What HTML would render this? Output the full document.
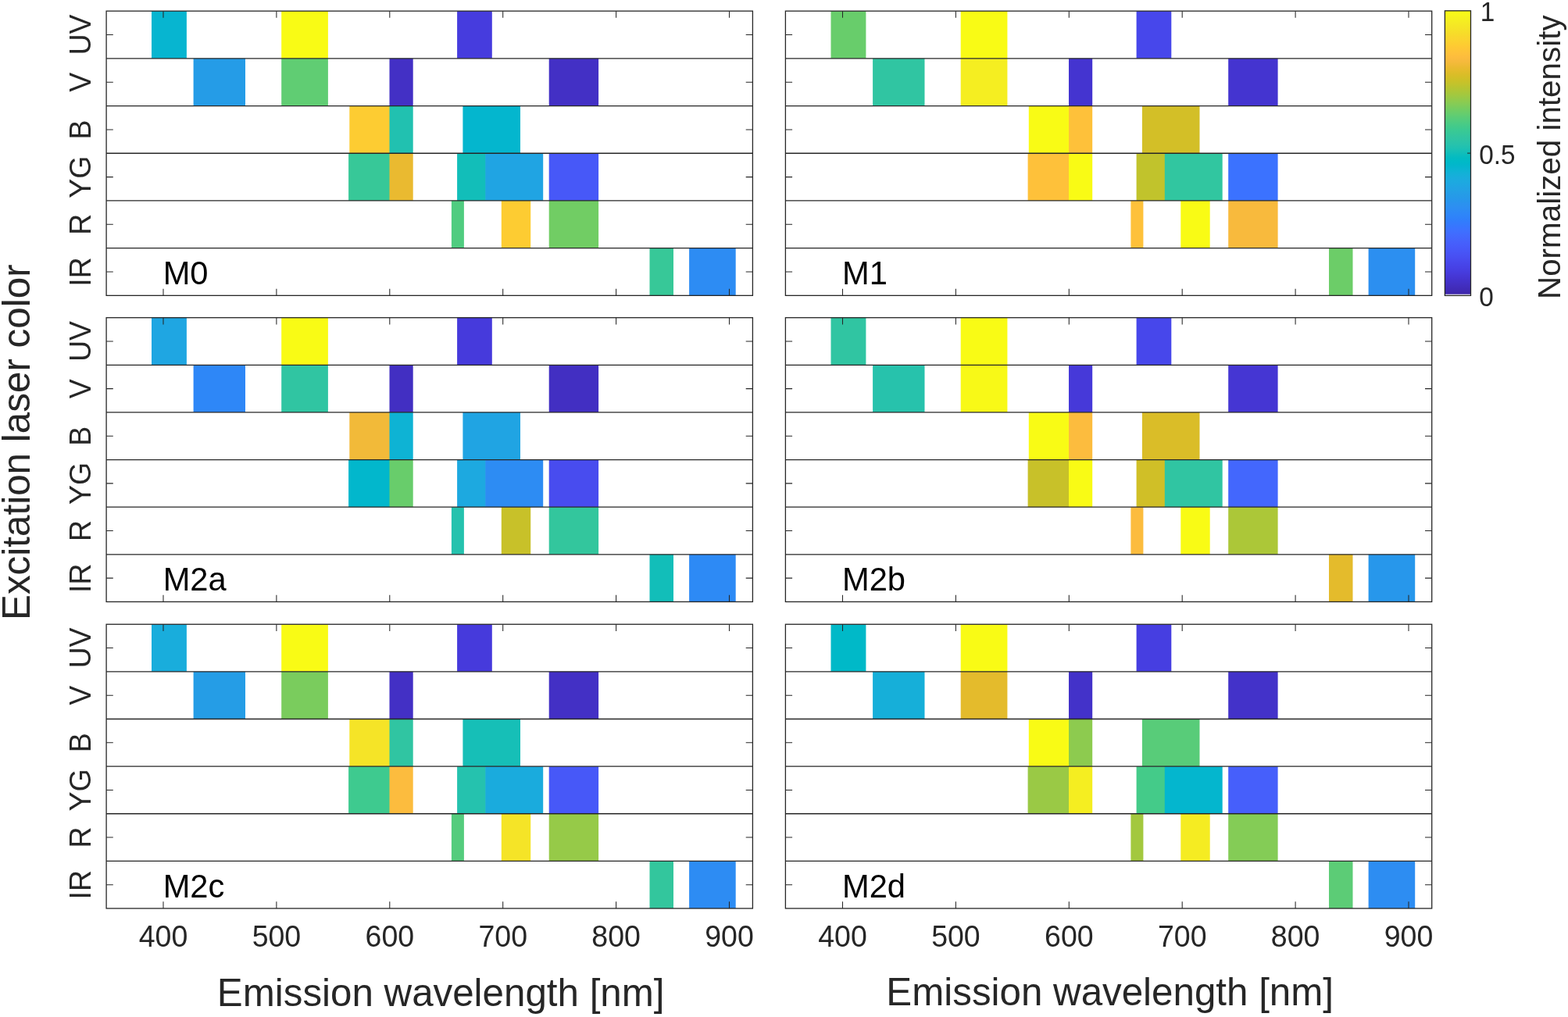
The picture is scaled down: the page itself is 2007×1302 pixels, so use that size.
<!DOCTYPE html>
<html lang="en">
<head>
<meta charset="utf-8">
<title>Normalized emission intensity per excitation laser</title>
<style>
html,body{margin:0;padding:0;background:#fff;}
body{width:2007px;height:1302px;overflow:hidden;}
svg{display:block;}
text{font-family:"Liberation Sans", sans-serif;fill:#262626;}
.tk{font-size:37.5px;}
.cb{font-size:33.33px;}
.pl{font-size:41.67px;fill:#000;}
.al{font-size:49.3px;}
.cl{font-size:40.4px;}
.yl{font-size:49.4px;}
.ln{stroke:#262626;stroke-width:1.3;fill:none;}
.tkl{stroke:#262626;stroke-width:1.05;fill:none;}
</style>
</head>
<body>
<svg width="2007" height="1302" viewBox="0 0 2007 1302">
<defs><linearGradient id="pg" x1="0" y1="1" x2="0" y2="0">
<stop offset="0.0000" stop-color="#3e26a8"/><stop offset="0.0118" stop-color="#3f29b2"/><stop offset="0.0235" stop-color="#412cba"/><stop offset="0.0353" stop-color="#422fc2"/><stop offset="0.0471" stop-color="#4332ca"/><stop offset="0.0588" stop-color="#4535d2"/><stop offset="0.0706" stop-color="#4639d9"/><stop offset="0.0824" stop-color="#463de0"/><stop offset="0.0941" stop-color="#4741e5"/><stop offset="0.1059" stop-color="#4745e9"/><stop offset="0.1176" stop-color="#4849ed"/><stop offset="0.1294" stop-color="#484ef1"/><stop offset="0.1412" stop-color="#4852f4"/><stop offset="0.1529" stop-color="#4756f7"/><stop offset="0.1647" stop-color="#475af9"/><stop offset="0.1765" stop-color="#465efb"/><stop offset="0.1882" stop-color="#4562fc"/><stop offset="0.2000" stop-color="#4367fd"/><stop offset="0.2118" stop-color="#416bfe"/><stop offset="0.2235" stop-color="#3e70ff"/><stop offset="0.2353" stop-color="#3974ff"/><stop offset="0.2471" stop-color="#3579fd"/><stop offset="0.2588" stop-color="#317dfc"/><stop offset="0.2706" stop-color="#2f82fa"/><stop offset="0.2824" stop-color="#2e86f8"/><stop offset="0.2941" stop-color="#2d8af5"/><stop offset="0.3059" stop-color="#2d8ef2"/><stop offset="0.3176" stop-color="#2b91ef"/><stop offset="0.3294" stop-color="#2895ec"/><stop offset="0.3412" stop-color="#2699e9"/><stop offset="0.3529" stop-color="#259ce7"/><stop offset="0.3647" stop-color="#23a0e5"/><stop offset="0.3765" stop-color="#21a3e3"/><stop offset="0.3882" stop-color="#1ea7e1"/><stop offset="0.4000" stop-color="#1caadf"/><stop offset="0.4118" stop-color="#19addc"/><stop offset="0.4235" stop-color="#14b0d8"/><stop offset="0.4353" stop-color="#0eb3d4"/><stop offset="0.4471" stop-color="#06b5cf"/><stop offset="0.4588" stop-color="#01b7ca"/><stop offset="0.4706" stop-color="#00bac6"/><stop offset="0.4824" stop-color="#04bbc1"/><stop offset="0.4941" stop-color="#0dbdbc"/><stop offset="0.5059" stop-color="#17bfb6"/><stop offset="0.5176" stop-color="#20c1b1"/><stop offset="0.5294" stop-color="#27c2ac"/><stop offset="0.5412" stop-color="#2cc4a6"/><stop offset="0.5529" stop-color="#31c5a1"/><stop offset="0.5647" stop-color="#35c79b"/><stop offset="0.5765" stop-color="#39c994"/><stop offset="0.5882" stop-color="#40ca8d"/><stop offset="0.6000" stop-color="#48cb86"/><stop offset="0.6118" stop-color="#51cc7f"/><stop offset="0.6235" stop-color="#5acc77"/><stop offset="0.6353" stop-color="#64cd6f"/><stop offset="0.6471" stop-color="#6ecd66"/><stop offset="0.6588" stop-color="#79cc5e"/><stop offset="0.6706" stop-color="#84cc56"/><stop offset="0.6824" stop-color="#8fcb4e"/><stop offset="0.6941" stop-color="#9ac946"/><stop offset="0.7059" stop-color="#a4c83e"/><stop offset="0.7176" stop-color="#aec637"/><stop offset="0.7294" stop-color="#b8c431"/><stop offset="0.7412" stop-color="#c2c32c"/><stop offset="0.7529" stop-color="#cbc128"/><stop offset="0.7647" stop-color="#d3bf27"/><stop offset="0.7765" stop-color="#dbbd28"/><stop offset="0.7882" stop-color="#e3bc2b"/><stop offset="0.8000" stop-color="#eaba30"/><stop offset="0.8118" stop-color="#f1ba37"/><stop offset="0.8235" stop-color="#f7ba3d"/><stop offset="0.8353" stop-color="#fcbc3e"/><stop offset="0.8471" stop-color="#fec03b"/><stop offset="0.8588" stop-color="#fec438"/><stop offset="0.8706" stop-color="#fec834"/><stop offset="0.8824" stop-color="#fdcd31"/><stop offset="0.8941" stop-color="#fbd22f"/><stop offset="0.9059" stop-color="#f9d62d"/><stop offset="0.9176" stop-color="#f7db2a"/><stop offset="0.9294" stop-color="#f6e028"/><stop offset="0.9412" stop-color="#f5e526"/><stop offset="0.9529" stop-color="#f5e924"/><stop offset="0.9647" stop-color="#f5ee21"/><stop offset="0.9765" stop-color="#f6f21e"/><stop offset="0.9882" stop-color="#f8f71a"/><stop offset="1.0000" stop-color="#f9fb15"/>
</linearGradient></defs>
<g id="panel-M0">
<rect x="194" y="14.15" width="44.9" height="60.7" fill="#07b5d0"/><rect x="360.2" y="14.15" width="59.7" height="60.7" fill="#f9fb15"/><rect x="585.1" y="14.15" width="44.7" height="60.7" fill="#463cde"/>
<rect x="247.6" y="74.85" width="66.4" height="60.7" fill="#259ce7"/><rect x="360.2" y="74.85" width="59.7" height="60.7" fill="#60cd73"/><rect x="498.5" y="74.85" width="30.2" height="60.7" fill="#4330c5"/><rect x="702.7" y="74.85" width="63.4" height="60.7" fill="#4330c5"/>
<rect x="447.3" y="135.55" width="51.8" height="60.7" fill="#fdcc32"/><rect x="498.5" y="135.55" width="30.2" height="60.7" fill="#21c1b0"/><rect x="592.4" y="135.55" width="73.6" height="60.7" fill="#04b6ce"/>
<rect x="446.1" y="196.25" width="53" height="60.7" fill="#37c898"/><rect x="498.5" y="196.25" width="30.2" height="60.7" fill="#eaba30"/><rect x="585.1" y="196.25" width="36.8" height="60.7" fill="#12beb9"/><rect x="621.3" y="196.25" width="73.9" height="60.7" fill="#20a4e3"/><rect x="702.7" y="196.25" width="63.4" height="60.7" fill="#4758f8"/>
<rect x="577.9" y="256.95" width="16" height="60.7" fill="#50cc80"/><rect x="641.8" y="256.95" width="37.4" height="60.7" fill="#fdcc32"/><rect x="702.7" y="256.95" width="63.4" height="60.7" fill="#71cd64"/>
<rect x="831.5" y="317.65" width="30.5" height="60.7" fill="#37c898"/><rect x="882.1" y="317.65" width="59.6" height="60.7" fill="#2d8cf3"/>
<path class="ln" d="M136.1 74.85H963.4M136.1 135.55H963.4M136.1 196.25H963.4M136.1 256.95H963.4M136.1 317.65H963.4"/>
<path class="tkl" d="M209 14.15v8.7M209 378.35v-8.7M353.9 14.15v8.7M353.9 378.35v-8.7M498.8 14.15v8.7M498.8 378.35v-8.7M643.7 14.15v8.7M643.7 378.35v-8.7M788.6 14.15v8.7M788.6 378.35v-8.7M933.5 14.15v8.7M933.5 378.35v-8.7M136.1 44.5h8.7M963.4 44.5h-8.7M136.1 105.2h8.7M963.4 105.2h-8.7M136.1 165.9h8.7M963.4 165.9h-8.7M136.1 226.6h8.7M963.4 226.6h-8.7M136.1 287.3h8.7M963.4 287.3h-8.7M136.1 348h8.7M963.4 348h-8.7"/>
<rect class="ln" x="136.1" y="14.15" width="827.3" height="364.2"/>
<text class="pl" transform="translate(208.65 363.95) scale(1 1.04)">M0</text>
<text class="tk" text-anchor="middle" transform="translate(116 44.5) rotate(-90) scale(1 1.04)">UV</text><text class="tk" text-anchor="middle" transform="translate(116 105.2) rotate(-90) scale(1 1.04)">V</text><text class="tk" text-anchor="middle" transform="translate(116 165.9) rotate(-90) scale(1 1.04)">B</text><text class="tk" text-anchor="middle" transform="translate(116 226.6) rotate(-90) scale(1 1.04)">YG</text><text class="tk" text-anchor="middle" transform="translate(116 287.3) rotate(-90) scale(1 1.04)">R</text><text class="tk" text-anchor="middle" transform="translate(116 348) rotate(-90) scale(1 1.04)">IR</text>
</g>
<g id="panel-M1">
<rect x="1063.5" y="14.15" width="44.9" height="60.7" fill="#68cd6b"/><rect x="1229.7" y="14.15" width="59.7" height="60.7" fill="#f9fb15"/><rect x="1454.6" y="14.15" width="44.7" height="60.7" fill="#4747eb"/>
<rect x="1117.1" y="74.85" width="66.4" height="60.7" fill="#30c5a2"/><rect x="1229.7" y="74.85" width="59.7" height="60.7" fill="#f5ee21"/><rect x="1368" y="74.85" width="30.2" height="60.7" fill="#4434d0"/><rect x="1572.2" y="74.85" width="63.4" height="60.7" fill="#4434d0"/>
<rect x="1316.8" y="135.55" width="51.8" height="60.7" fill="#f9fb15"/><rect x="1368" y="135.55" width="30.2" height="60.7" fill="#fec13a"/><rect x="1461.9" y="135.55" width="73.6" height="60.7" fill="#d3bf27"/>
<rect x="1315.6" y="196.25" width="53" height="60.7" fill="#fec13a"/><rect x="1368" y="196.25" width="30.2" height="60.7" fill="#f9fb15"/><rect x="1454.6" y="196.25" width="36.8" height="60.7" fill="#c1c32c"/><rect x="1490.8" y="196.25" width="73.9" height="60.7" fill="#31c6a0"/><rect x="1572.2" y="196.25" width="63.4" height="60.7" fill="#3b72ff"/>
<rect x="1447.4" y="256.95" width="16" height="60.7" fill="#fec13a"/><rect x="1511.3" y="256.95" width="37.4" height="60.7" fill="#f9fb15"/><rect x="1572.2" y="256.95" width="63.4" height="60.7" fill="#f8ba3d"/>
<rect x="1701" y="317.65" width="30.5" height="60.7" fill="#6ccd68"/><rect x="1751.6" y="317.65" width="59.6" height="60.7" fill="#2c8ff0"/>
<path class="ln" d="M1005.4 74.85H1832.7M1005.4 135.55H1832.7M1005.4 196.25H1832.7M1005.4 256.95H1832.7M1005.4 317.65H1832.7"/>
<path class="tkl" d="M1078.5 14.15v8.7M1078.5 378.35v-8.7M1223.4 14.15v8.7M1223.4 378.35v-8.7M1368.3 14.15v8.7M1368.3 378.35v-8.7M1513.2 14.15v8.7M1513.2 378.35v-8.7M1658.1 14.15v8.7M1658.1 378.35v-8.7M1803 14.15v8.7M1803 378.35v-8.7M1005.4 44.5h8.7M1832.7 44.5h-8.7M1005.4 105.2h8.7M1832.7 105.2h-8.7M1005.4 165.9h8.7M1832.7 165.9h-8.7M1005.4 226.6h8.7M1832.7 226.6h-8.7M1005.4 287.3h8.7M1832.7 287.3h-8.7M1005.4 348h8.7M1832.7 348h-8.7"/>
<rect class="ln" x="1005.4" y="14.15" width="827.3" height="364.2"/>
<text class="pl" transform="translate(1077.95 363.95) scale(1 1.04)">M1</text>
</g>
<g id="panel-M2a">
<rect x="194" y="406.7" width="44.9" height="60.62" fill="#1fa6e2"/><rect x="360.2" y="406.7" width="59.7" height="60.62" fill="#f9fb15"/><rect x="585.1" y="406.7" width="44.7" height="60.62" fill="#463adc"/>
<rect x="247.6" y="467.32" width="66.4" height="60.62" fill="#2e87f7"/><rect x="360.2" y="467.32" width="59.7" height="60.62" fill="#30c5a2"/><rect x="498.5" y="467.32" width="30.2" height="60.62" fill="#422fc2"/><rect x="702.7" y="467.32" width="63.4" height="60.62" fill="#422fc2"/>
<rect x="447.3" y="527.95" width="51.8" height="60.62" fill="#f2ba39"/><rect x="498.5" y="527.95" width="30.2" height="60.62" fill="#0eb3d4"/><rect x="592.4" y="527.95" width="73.6" height="60.62" fill="#20a4e3"/>
<rect x="446.1" y="588.58" width="53" height="60.62" fill="#02b7cc"/><rect x="498.5" y="588.58" width="30.2" height="60.62" fill="#68cd6b"/><rect x="585.1" y="588.58" width="36.8" height="60.62" fill="#1da9e0"/><rect x="621.3" y="588.58" width="73.9" height="60.62" fill="#2d8cf3"/><rect x="702.7" y="588.58" width="63.4" height="60.62" fill="#484cef"/>
<rect x="577.9" y="649.2" width="16" height="60.62" fill="#25c2ae"/><rect x="641.8" y="649.2" width="37.4" height="60.62" fill="#c8c129"/><rect x="702.7" y="649.2" width="63.4" height="60.62" fill="#33c69d"/>
<rect x="831.5" y="709.83" width="30.5" height="60.62" fill="#12beb9"/><rect x="882.1" y="709.83" width="59.6" height="60.62" fill="#2d8af5"/>
<path class="ln" d="M136.1 467.32H963.4M136.1 527.95H963.4M136.1 588.58H963.4M136.1 649.2H963.4M136.1 709.83H963.4"/>
<path class="tkl" d="M209 406.7v8.7M209 770.45v-8.7M353.9 406.7v8.7M353.9 770.45v-8.7M498.8 406.7v8.7M498.8 770.45v-8.7M643.7 406.7v8.7M643.7 770.45v-8.7M788.6 406.7v8.7M788.6 770.45v-8.7M933.5 406.7v8.7M933.5 770.45v-8.7M136.1 437.01h8.7M963.4 437.01h-8.7M136.1 497.64h8.7M963.4 497.64h-8.7M136.1 558.26h8.7M963.4 558.26h-8.7M136.1 618.89h8.7M963.4 618.89h-8.7M136.1 679.51h8.7M963.4 679.51h-8.7M136.1 740.14h8.7M963.4 740.14h-8.7"/>
<rect class="ln" x="136.1" y="406.7" width="827.3" height="363.75"/>
<text class="pl" transform="translate(208.65 756.05) scale(1 1.04)">M2a</text>
<text class="tk" text-anchor="middle" transform="translate(116 437.01) rotate(-90) scale(1 1.04)">UV</text><text class="tk" text-anchor="middle" transform="translate(116 497.64) rotate(-90) scale(1 1.04)">V</text><text class="tk" text-anchor="middle" transform="translate(116 558.26) rotate(-90) scale(1 1.04)">B</text><text class="tk" text-anchor="middle" transform="translate(116 618.89) rotate(-90) scale(1 1.04)">YG</text><text class="tk" text-anchor="middle" transform="translate(116 679.51) rotate(-90) scale(1 1.04)">R</text><text class="tk" text-anchor="middle" transform="translate(116 740.14) rotate(-90) scale(1 1.04)">IR</text>
</g>
<g id="panel-M2b">
<rect x="1063.5" y="406.7" width="44.9" height="60.62" fill="#30c5a2"/><rect x="1229.7" y="406.7" width="59.7" height="60.62" fill="#f9fb15"/><rect x="1454.6" y="406.7" width="44.7" height="60.62" fill="#4747eb"/>
<rect x="1117.1" y="467.32" width="66.4" height="60.62" fill="#27c2ac"/><rect x="1229.7" y="467.32" width="59.7" height="60.62" fill="#f8f917"/><rect x="1368" y="467.32" width="30.2" height="60.62" fill="#4639d9"/><rect x="1572.2" y="467.32" width="63.4" height="60.62" fill="#4536d3"/>
<rect x="1316.8" y="527.95" width="51.8" height="60.62" fill="#f9fb15"/><rect x="1368" y="527.95" width="30.2" height="60.62" fill="#fcbc3e"/><rect x="1461.9" y="527.95" width="73.6" height="60.62" fill="#dabd28"/>
<rect x="1315.6" y="588.58" width="53" height="60.62" fill="#c8c129"/><rect x="1368" y="588.58" width="30.2" height="60.62" fill="#f9fb15"/><rect x="1454.6" y="588.58" width="36.8" height="60.62" fill="#d0bf27"/><rect x="1490.8" y="588.58" width="73.9" height="60.62" fill="#30c5a2"/><rect x="1572.2" y="588.58" width="63.4" height="60.62" fill="#4367fd"/>
<rect x="1447.4" y="649.2" width="16" height="60.62" fill="#fcbc3e"/><rect x="1511.3" y="649.2" width="37.4" height="60.62" fill="#f9fb15"/><rect x="1572.2" y="649.2" width="63.4" height="60.62" fill="#acc738"/>
<rect x="1701" y="709.83" width="30.5" height="60.62" fill="#e4bb2c"/><rect x="1751.6" y="709.83" width="59.6" height="60.62" fill="#2797eb"/>
<path class="ln" d="M1005.4 467.32H1832.7M1005.4 527.95H1832.7M1005.4 588.58H1832.7M1005.4 649.2H1832.7M1005.4 709.83H1832.7"/>
<path class="tkl" d="M1078.5 406.7v8.7M1078.5 770.45v-8.7M1223.4 406.7v8.7M1223.4 770.45v-8.7M1368.3 406.7v8.7M1368.3 770.45v-8.7M1513.2 406.7v8.7M1513.2 770.45v-8.7M1658.1 406.7v8.7M1658.1 770.45v-8.7M1803 406.7v8.7M1803 770.45v-8.7M1005.4 437.01h8.7M1832.7 437.01h-8.7M1005.4 497.64h8.7M1832.7 497.64h-8.7M1005.4 558.26h8.7M1832.7 558.26h-8.7M1005.4 618.89h8.7M1832.7 618.89h-8.7M1005.4 679.51h8.7M1832.7 679.51h-8.7M1005.4 740.14h8.7M1832.7 740.14h-8.7"/>
<rect class="ln" x="1005.4" y="406.7" width="827.3" height="363.75"/>
<text class="pl" transform="translate(1077.95 756.05) scale(1 1.04)">M2b</text>
</g>
<g id="panel-M2c">
<rect x="194" y="799.25" width="44.9" height="60.62" fill="#19addc"/><rect x="360.2" y="799.25" width="59.7" height="60.62" fill="#f9fb15"/><rect x="585.1" y="799.25" width="44.7" height="60.62" fill="#463adc"/>
<rect x="247.6" y="859.88" width="66.4" height="60.62" fill="#259de6"/><rect x="360.2" y="859.88" width="59.7" height="60.62" fill="#7acc5d"/><rect x="498.5" y="859.88" width="30.2" height="60.62" fill="#4330c5"/><rect x="702.7" y="859.88" width="63.4" height="60.62" fill="#4330c5"/>
<rect x="447.3" y="920.5" width="51.8" height="60.62" fill="#f5e427"/><rect x="498.5" y="920.5" width="30.2" height="60.62" fill="#30c5a2"/><rect x="592.4" y="920.5" width="73.6" height="60.62" fill="#16bfb7"/>
<rect x="446.1" y="981.12" width="53" height="60.62" fill="#3eca8f"/><rect x="498.5" y="981.12" width="30.2" height="60.62" fill="#fcbc3e"/><rect x="585.1" y="981.12" width="36.8" height="60.62" fill="#25c2ae"/><rect x="621.3" y="981.12" width="73.9" height="60.62" fill="#1aabdd"/><rect x="702.7" y="981.12" width="63.4" height="60.62" fill="#4758f8"/>
<rect x="577.9" y="1041.75" width="16" height="60.62" fill="#54cc7d"/><rect x="641.8" y="1041.75" width="37.4" height="60.62" fill="#f5e427"/><rect x="702.7" y="1041.75" width="63.4" height="60.62" fill="#96ca48"/>
<rect x="831.5" y="1102.38" width="30.5" height="60.62" fill="#33c69d"/><rect x="882.1" y="1102.38" width="59.6" height="60.62" fill="#2d8cf3"/>
<path class="ln" d="M136.1 859.88H963.4M136.1 920.5H963.4M136.1 981.12H963.4M136.1 1041.75H963.4M136.1 1102.38H963.4"/>
<path class="tkl" d="M209 799.25v8.7M209 1163v-8.7M353.9 799.25v8.7M353.9 1163v-8.7M498.8 799.25v8.7M498.8 1163v-8.7M643.7 799.25v8.7M643.7 1163v-8.7M788.6 799.25v8.7M788.6 1163v-8.7M933.5 799.25v8.7M933.5 1163v-8.7M136.1 829.56h8.7M963.4 829.56h-8.7M136.1 890.19h8.7M963.4 890.19h-8.7M136.1 950.81h8.7M963.4 950.81h-8.7M136.1 1011.44h8.7M963.4 1011.44h-8.7M136.1 1072.06h8.7M963.4 1072.06h-8.7M136.1 1132.69h8.7M963.4 1132.69h-8.7"/>
<rect class="ln" x="136.1" y="799.25" width="827.3" height="363.75"/>
<text class="pl" transform="translate(208.65 1148.6) scale(1 1.04)">M2c</text>
<text class="tk" text-anchor="middle" transform="translate(116 829.56) rotate(-90) scale(1 1.04)">UV</text><text class="tk" text-anchor="middle" transform="translate(116 890.19) rotate(-90) scale(1 1.04)">V</text><text class="tk" text-anchor="middle" transform="translate(116 950.81) rotate(-90) scale(1 1.04)">B</text><text class="tk" text-anchor="middle" transform="translate(116 1011.44) rotate(-90) scale(1 1.04)">YG</text><text class="tk" text-anchor="middle" transform="translate(116 1072.06) rotate(-90) scale(1 1.04)">R</text><text class="tk" text-anchor="middle" transform="translate(116 1132.69) rotate(-90) scale(1 1.04)">IR</text>
<text class="tk" text-anchor="middle" transform="translate(209 1212.2) scale(1 1.04)">400</text><text class="tk" text-anchor="middle" transform="translate(353.9 1212.2) scale(1 1.04)">500</text><text class="tk" text-anchor="middle" transform="translate(498.8 1212.2) scale(1 1.04)">600</text><text class="tk" text-anchor="middle" transform="translate(643.7 1212.2) scale(1 1.04)">700</text><text class="tk" text-anchor="middle" transform="translate(788.6 1212.2) scale(1 1.04)">800</text><text class="tk" text-anchor="middle" transform="translate(933.5 1212.2) scale(1 1.04)">900</text>
<text class="al" text-anchor="middle" x="564.2" y="1287.8">Emission wavelength [nm]</text>
</g>
<g id="panel-M2d">
<rect x="1063.5" y="799.25" width="44.9" height="60.62" fill="#00b9c8"/><rect x="1229.7" y="799.25" width="59.7" height="60.62" fill="#f9fb15"/><rect x="1454.6" y="799.25" width="44.7" height="60.62" fill="#463ee1"/>
<rect x="1117.1" y="859.88" width="66.4" height="60.62" fill="#16afd9"/><rect x="1229.7" y="859.88" width="59.7" height="60.62" fill="#e4bb2c"/><rect x="1368" y="859.88" width="30.2" height="60.62" fill="#4332c9"/><rect x="1572.2" y="859.88" width="63.4" height="60.62" fill="#4332c9"/>
<rect x="1316.8" y="920.5" width="51.8" height="60.62" fill="#f9fb15"/><rect x="1368" y="920.5" width="30.2" height="60.62" fill="#8dcb4f"/><rect x="1461.9" y="920.5" width="73.6" height="60.62" fill="#58cc79"/>
<rect x="1315.6" y="981.12" width="53" height="60.62" fill="#9ac945"/><rect x="1368" y="981.12" width="30.2" height="60.62" fill="#f5ee21"/><rect x="1454.6" y="981.12" width="36.8" height="60.62" fill="#44cb89"/><rect x="1490.8" y="981.12" width="73.9" height="60.62" fill="#04b6ce"/><rect x="1572.2" y="981.12" width="63.4" height="60.62" fill="#465ffb"/>
<rect x="1447.4" y="1041.75" width="16" height="60.62" fill="#a3c83e"/><rect x="1511.3" y="1041.75" width="37.4" height="60.62" fill="#f5ec22"/><rect x="1572.2" y="1041.75" width="63.4" height="60.62" fill="#84cc56"/>
<rect x="1701" y="1102.38" width="30.5" height="60.62" fill="#5ccc76"/><rect x="1751.6" y="1102.38" width="59.6" height="60.62" fill="#2d8df2"/>
<path class="ln" d="M1005.4 859.88H1832.7M1005.4 920.5H1832.7M1005.4 981.12H1832.7M1005.4 1041.75H1832.7M1005.4 1102.38H1832.7"/>
<path class="tkl" d="M1078.5 799.25v8.7M1078.5 1163v-8.7M1223.4 799.25v8.7M1223.4 1163v-8.7M1368.3 799.25v8.7M1368.3 1163v-8.7M1513.2 799.25v8.7M1513.2 1163v-8.7M1658.1 799.25v8.7M1658.1 1163v-8.7M1803 799.25v8.7M1803 1163v-8.7M1005.4 829.56h8.7M1832.7 829.56h-8.7M1005.4 890.19h8.7M1832.7 890.19h-8.7M1005.4 950.81h8.7M1832.7 950.81h-8.7M1005.4 1011.44h8.7M1832.7 1011.44h-8.7M1005.4 1072.06h8.7M1832.7 1072.06h-8.7M1005.4 1132.69h8.7M1832.7 1132.69h-8.7"/>
<rect class="ln" x="1005.4" y="799.25" width="827.3" height="363.75"/>
<text class="pl" transform="translate(1077.95 1148.6) scale(1 1.04)">M2d</text>
<text class="tk" text-anchor="middle" transform="translate(1078.5 1212.2) scale(1 1.04)">400</text><text class="tk" text-anchor="middle" transform="translate(1223.4 1212.2) scale(1 1.04)">500</text><text class="tk" text-anchor="middle" transform="translate(1368.3 1212.2) scale(1 1.04)">600</text><text class="tk" text-anchor="middle" transform="translate(1513.2 1212.2) scale(1 1.04)">700</text><text class="tk" text-anchor="middle" transform="translate(1658.1 1212.2) scale(1 1.04)">800</text><text class="tk" text-anchor="middle" transform="translate(1803 1212.2) scale(1 1.04)">900</text>
<text class="al" text-anchor="middle" x="1420.7" y="1286.6">Emission wavelength [nm]</text>
</g>
<text class="yl" text-anchor="middle" transform="translate(38.1 566.2) rotate(-90)">Excitation laser color</text>
<g id="colorbar">
<rect x="1849.4" y="13.8" width="33.1" height="363.1" fill="url(#pg)"/>
<rect x="1849.4" y="376.8" width="33.1" height="1.6" fill="#fff"/>
<rect class="ln" x="1849.4" y="13.8" width="33.1" height="364.6"/>
<path class="tkl" d="M1882.5 196.1h-4.4"/>
<text class="cb" transform="translate(1894.8 26.8) scale(1 1.04)">1</text><text class="cb" transform="translate(1893.3 209.6) scale(1 1.04)">0.5</text><text class="cb" transform="translate(1893.3 391.7) scale(1 1.04)">0</text>
<text class="cl" text-anchor="middle" transform="translate(1997.2 201.2) rotate(-90)">Normalized intensity</text>
</g>
</svg>
</body>
</html>
